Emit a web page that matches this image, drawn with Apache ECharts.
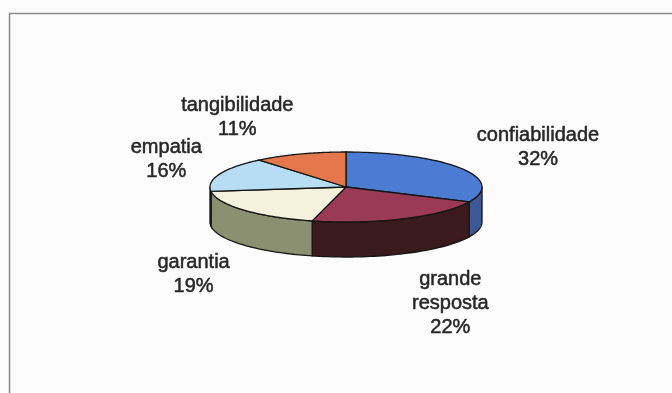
<!DOCTYPE html>
<html><head><meta charset="utf-8">
<script src="https://cdn.jsdelivr.net/npm/echarts@6/dist/echarts.min.js"></script>
<style>html,body{margin:0;padding:0;background:#fbfcfb}#c{width:672px;height:393px}</style>
</head><body><div id="c"></div>
<script>
// ---- data ----
const categories = ['confiabilidade', 'grande resposta', 'garantia', 'empatia', 'tangibilidade'];
const values = [32, 22, 19, 16, 11];

// ---- styling ----
const topColors  = ['#4b7bd3', '#9b3a56', '#f4f2dc', '#b6ddf4', '#e4784c'];
const sideColors = ['#3d5896', '#3a1a1c', '#8b9070', '#7fa3bd', '#a8553a'];
const CX = 346, CY = 187, RX = 136, RY = 35, DEPTH = 35;
const FONT = '20px "Liberation Sans", Arial, sans-serif';
const LINE_H = 24;

const total = values.reduce((a, b) => a + b, 0);
const starts = [];
let acc = 0;
values.forEach(v => { starts.push(acc); acc += v; });
const seriesData = values.map((v, i) => [v, starts[i]]);

const measureCtx = document.createElement('canvas').getContext('2d');
measureCtx.font = FONT;

function angles(api) {
  const a0 = api.value(1) / total * 2 * Math.PI;
  const a1 = (api.value(1) + api.value(0)) / total * 2 * Math.PI;
  return [a0, a1];
}
function pt(t, dy) { return [CX + RX * Math.sin(t), CY - RY * Math.cos(t) + (dy || 0)]; }

function sideItem(params, api) {
  const i = params.dataIndex;
  const [a0, a1] = angles(api);
  const lo = Math.max(a0, Math.PI / 2), hi = Math.min(a1, 3 * Math.PI / 2);
  if (hi <= lo) return null;
  const N = 48, pts = [];
  for (let k = 0; k <= N; k++) pts.push(pt(lo + (hi - lo) * k / N, 0));
  for (let k = N; k >= 0; k--) pts.push(pt(lo + (hi - lo) * k / N, DEPTH));
  return { type: 'polygon', shape: { points: pts },
    style: { fill: sideColors[i], stroke: '#151515', lineWidth: 1.3 } };
}

function topItem(params, api) {
  const i = params.dataIndex;
  const [a0, a1] = angles(api);
  const N = 64, pts = [[CX, CY]];
  for (let k = 0; k <= N; k++) pts.push(pt(a0 + (a1 - a0) * k / N, 0));
  // label placed just outside the slice, pushed away by its own box size
  const pct = Math.round(api.value(0) / total * 100) + '%';
  const lines = categories[i].split(' ').concat([pct]);
  const w = Math.max.apply(null, lines.map(s => measureCtx.measureText(s).width));
  const h = lines.length * LINE_H;
  const mid = (a0 + a1) / 2, s = Math.sin(mid), c = Math.cos(mid);
  const lx = CX + 155 * s + (w / 2) * Math.sign(s);
  const ly = CY - (50 + h / 2) * c + (c < 0 ? DEPTH + 4 : 0);
  return { type: 'group', children: [
    { type: 'polygon', shape: { points: pts },
      style: { fill: topColors[i], stroke: '#151515', lineWidth: 1.3 } },
    { type: 'text', x: lx, y: ly,
      style: { text: lines.join('\n'), font: FONT, fill: '#262626',
        stroke: '#262626', lineWidth: 0.5,
        textAlign: 'center', textVerticalAlign: 'middle', align: 'center', verticalAlign: 'middle',
        lineHeight: LINE_H } }
  ]};
}

const chart = echarts.init(document.getElementById('c'));
chart.setOption({
  backgroundColor: '#fbfcfb',
  animation: false,
  graphic: [{ type: 'rect', left: 7, top: 11, shape: { width: 720, height: 420 },
    style: { fill: 'none', stroke: '#8a8a8a', lineWidth: 1.5 } }],
  series: [
    { type: 'custom', coordinateSystem: 'none', renderItem: sideItem, data: seriesData, z: 1, silent: true },
    { type: 'custom', coordinateSystem: 'none', renderItem: topItem, data: seriesData, z: 2, silent: true }
  ]
});
</script></body></html>
